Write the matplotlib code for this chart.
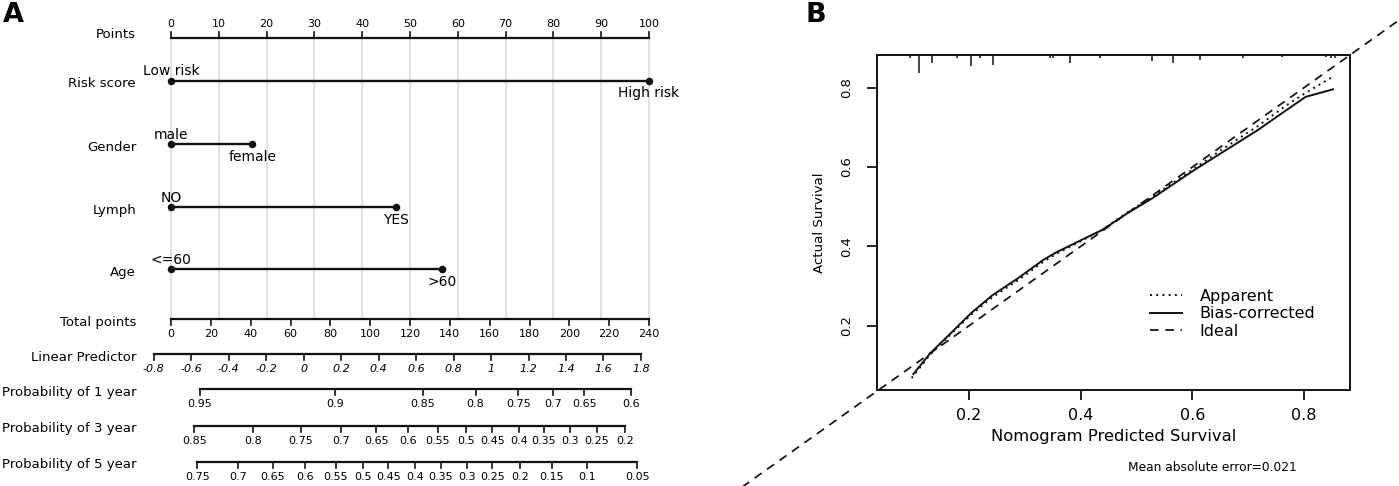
import numpy as np
import matplotlib
matplotlib.use("Agg")
import matplotlib.pyplot as plt
import matplotlib.transforms as mtransforms

# ---- data for panel A (nomogram), positions on the "total points" scale ----
points_ticks = [0, 10, 20, 30, 40, 50, 60, 70, 80, 90, 100]
total_ticks = [0, 20, 40, 60, 80, 100, 120, 140, 160, 180, 200, 220, 240]

# factor rows: level labels and points of each level (0-100 scale)
risk_levels = ["Low risk", "High risk"]
risk_pts = [0, 100]
gender_levels = ["male", "female"]
gender_pts = [0, 17]
lymph_levels = ["NO", "YES"]
lymph_pts = [0, 47]
age_levels = ["<=60", ">60"]
age_pts = [0, 56.7]

lp_ticks = [-0.8, -0.6, -0.4, -0.2, 0, 0.2, 0.4, 0.6, 0.8, 1, 1.2, 1.4, 1.6, 1.8]
lp_labels = ["-0.8", "-0.6", "-0.4", "-0.2", "0", "0.2", "0.4", "0.6", "0.8", "1", "1.2", "1.4", "1.6", "1.8"]
lp_start_pts = -8.7      # total points where LP = -0.8
lp_pts_per_unit = 94.1

p1_labels = ["0.95", "0.9", "0.85", "0.8", "0.75", "0.7", "0.65", "0.6"]
p1_pos = [14.6, 82.4, 126.3, 152.9, 174.3, 192.0, 207.6, 231.2]
p3_labels = ["0.85", "0.8", "0.75", "0.7", "0.65", "0.6", "0.55", "0.5", "0.45", "0.4",
             "0.35", "0.3", "0.25", "0.2"]
p3_pos = [11.7, 41.4, 65.1, 85.6, 103.1, 119.1, 134.0, 147.9, 161.4, 174.9, 187.3,
          200.2, 213.7, 227.8]
p5_labels = ["0.75", "0.7", "0.65", "0.6", "0.55", "0.5", "0.45", "0.4", "0.35", "0.3",
             "0.25", "0.2", "0.15", "0.1", "0.05"]
p5_pos = [13.3, 33.5, 51.1, 67.5, 82.6, 96.6, 109.2, 122.5, 135.5, 148.4, 161.4, 175.4,
          191.1, 208.7, 234.1]

# ---- data for panel B (calibration curve) ----
bias_x = [0.100, 0.130, 0.167, 0.203, 0.242, 0.288, 0.333, 0.355, 0.404, 0.438, 0.483,
          0.528, 0.604, 0.656, 0.717, 0.769, 0.803, 0.852]
bias_y = [0.078, 0.130, 0.181, 0.231, 0.277, 0.320, 0.366, 0.384, 0.418, 0.441, 0.483,
          0.521, 0.593, 0.639, 0.693, 0.744, 0.777, 0.796]
app_x = [0.097, 0.130, 0.167, 0.203, 0.242, 0.288, 0.333, 0.355, 0.404, 0.438, 0.483,
         0.528, 0.604, 0.656, 0.717, 0.769, 0.803, 0.852]
app_y = [0.068, 0.127, 0.178, 0.227, 0.272, 0.315, 0.361, 0.380, 0.416, 0.441, 0.485,
         0.525, 0.597, 0.647, 0.703, 0.756, 0.787, 0.828]
ideal_range = [-0.25, 1.0]
rug_x = [0.094, 0.111, 0.133, 0.179, 0.203, 0.219, 0.242, 0.345, 0.350, 0.381, 0.434,
         0.527, 0.566, 0.613, 0.690, 0.760, 0.840, 0.848, 0.855]
rug_len = [3, 18, 8, 3, 11, 3, 10, 3, 3, 8, 3, 6, 8, 5, 3, 2, 2, 3, 3]
mae = 0.021

W, H = 1399, 486
fig = plt.figure(figsize=(W / 100, H / 100), dpi=100)

# ================= panel A =================
px0, px240 = 171, 649
ppp = (px240 - px0) / 240.0
axA = fig.add_axes([0, 0, 700 / W, 1])
axA.set_xlim(-px0 / ppp, (700 - px0) / ppp)
axA.set_ylim(H, 0)
axA.axis("off")

lab_x = (136 - px0) / ppp
row_fs = 9.5
tick_fs = 8
lev_fs = 10
blk = "#111111"

# vertical grid
for p in points_ticks:
    axA.plot([p * 2.4, p * 2.4], [38.3, 318], color="#d9d9d9", lw=1.1, zorder=0)

# Points axis (ticks upward)
y = 38.3
axA.plot([0, 240], [y, y], color=blk, lw=1.6)
for p in points_ticks:
    axA.plot([p * 2.4, p * 2.4], [y, y - 6.5], color=blk, lw=1.2)
    axA.text(p * 2.4, y - 14, str(p), ha="center", va="center", fontsize=tick_fs)
axA.text(lab_x, 34, "Points", ha="right", va="center", fontsize=row_fs)

# factor rows
rows = [("Risk score", risk_levels, risk_pts, 80.7),
        ("Gender", gender_levels, gender_pts, 144),
        ("Lymph", lymph_levels, lymph_pts, 207),
        ("Age", age_levels, age_pts, 269)]
for name, levels, pts, y in rows:
    xs = [v * 2.4 for v in pts]
    axA.plot(xs, [y, y], color=blk, lw=1.7, marker="o", ms=4.4)
    axA.text(xs[0], y - 9.5, levels[0], ha="center", va="center", fontsize=lev_fs)
    axA.text(xs[1], y + 12.5, levels[1], ha="center", va="center", fontsize=lev_fs)
    axA.text(lab_x, y + 3, name, ha="right", va="center", fontsize=row_fs)


def scale_row(ax, y, pos, labels, name, style="normal"):
    ax.plot([pos[0], pos[-1]], [y, y], color=blk, lw=1.6)
    for p, lab in zip(pos, labels):
        ax.plot([p, p], [y, y + 6], color=blk, lw=1.2)
        ax.text(p, y + 15, lab, ha="center", va="center", fontsize=tick_fs, style=style)
    ax.text(lab_x, y + 3, name, ha="right", va="center", fontsize=row_fs)


scale_row(axA, 319, total_ticks, [str(t) for t in total_ticks], "Total points")
lp_pos = [lp_start_pts + (v - lp_ticks[0]) * lp_pts_per_unit for v in lp_ticks]
scale_row(axA, 354.3, lp_pos, lp_labels, "Linear Predictor", style="italic")
scale_row(axA, 389.3, p1_pos, p1_labels, "Probability of 1 year")
scale_row(axA, 425.7, p3_pos, p3_labels, "Probability of 3 year")
scale_row(axA, 461.7, p5_pos, p5_labels, "Probability of 5 year")

fig.text(13.5 / W, 1 - 15 / H, "A", fontsize=19.5, fontweight="bold", ha="center", va="center")

# ================= panel B =================
left, right, top, bottom = 876.5, 1350, 55, 390
axB = fig.add_axes([left / W, 1 - bottom / H, (right - left) / W, (bottom - top) / H])
axB.set_xlim(0.034, 0.8825)
axB.set_ylim(0.0378, 0.8825)

axB.plot(app_x, app_y, color=blk, lw=1.4, linestyle=(0, (1, 2.2)), label="Apparent")
axB.plot(bias_x, bias_y, color=blk, lw=1.4, label="Bias-corrected")
axB.plot(ideal_range, ideal_range, color=blk, lw=1.25, linestyle=(0, (5, 3.8)),
         label="Ideal", clip_on=False)

trans = mtransforms.blended_transform_factory(axB.transData, axB.transAxes)
axh = bottom - top
axB.vlines(rug_x, [1 - l / axh for l in rug_len], 1, colors=blk, lw=1.1, transform=trans)

for s in axB.spines.values():
    s.set_linewidth(1.4)
    s.set_color(blk)
axB.set_xticks([0.2, 0.4, 0.6, 0.8])
axB.set_yticks([0.2, 0.4, 0.6, 0.8])
axB.set_xticklabels(["0.2", "0.4", "0.6", "0.8"], fontsize=11.5)
axB.set_yticklabels(["0.2", "0.4", "0.6", "0.8"], fontsize=9.5, rotation=90, va="center")
axB.tick_params(length=7, width=1.3, color=blk, pad=6)
axB.tick_params(axis="y", pad=10)
axB.set_xlabel("Nomogram Predicted Survival", fontsize=11.8, labelpad=4)
axB.set_ylabel("Actual Survival", fontsize=9.6, labelpad=10)

leg = axB.legend(loc="center left", bbox_to_anchor=(0.578, 0.227), frameon=False,
                 fontsize=11.5, handlelength=2.0, handletextpad=1.1, labelspacing=0.15,
                 borderpad=0, borderaxespad=0)

fig.text(1212 / W, 1 - 467.3 / H, "Mean absolute error=%.3f" % mae, fontsize=8.8,
         ha="center", va="center")
fig.text(815.5 / W, 1 - 15 / H, "B", fontsize=19.5, fontweight="bold", ha="center", va="center")

fig.savefig("out.png", dpi=100)
